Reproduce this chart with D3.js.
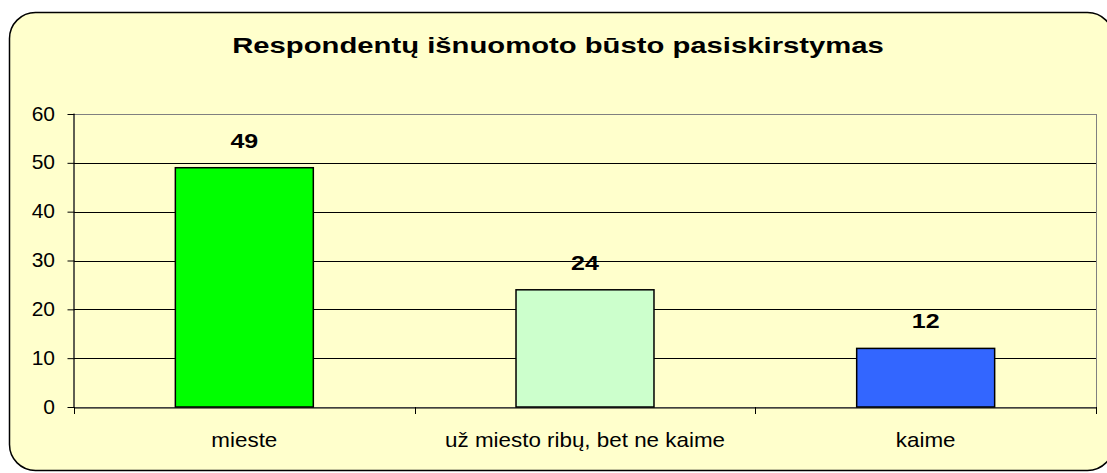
<!DOCTYPE html>
<html>
<head>
<meta charset="utf-8">
<script src="https://cdn.jsdelivr.net/npm/d3@7"></script>
<style>
  body { margin: 0; background: #fff; }
  text { font-family: Arial, "Liberation Sans", sans-serif; }
</style>
</head>
<body>
<svg width="1107" height="473"></svg>
<script>
// data
var categories = ["mieste", "už miesto ribų, bet ne kaime", "kaime"];
var values = [49, 24, 12];
var barColors = ["#00FF00", "#CCFFCC", "#3366FF"];
var yTicks = [0, 10, 20, 30, 40, 50, 60];
var title = "Respondentų išnuomoto būsto pasiskirstymas";

var svg = d3.select("svg");

// chart area background
svg.append("rect")
  .attr("x", 9.5).attr("y", 12.5)
  .attr("width", 1104).attr("height", 458)
  .attr("rx", 26).attr("ry", 26)
  .style("fill", "#FFFFCC")
  .style("stroke", "#000")
  .style("stroke-width", 1.5);

svg.append("text")
  .attr("transform", "translate(558,53) scale(1.33,1)")
  .style("text-anchor", "middle")
  .style("font-weight", "bold")
  .style("font-size", "22px")
  .text(title);

var pLeft = 74, pRight = 1096, pTop = 114, pBottom = 407;

var x = d3.scaleBand().domain(categories).range([pLeft, pRight]);
var y = d3.scaleLinear().domain([0, 60]).range([pBottom, pTop]);

// plot box
svg.append("rect")
  .attr("x", pLeft).attr("y", pTop + 0.5)
  .attr("width", pRight - pLeft + 0.5).attr("height", pBottom - pTop)
  .style("fill", "#FFFFCC")
  .style("stroke", "#808080")
  .style("stroke-width", 1);

// grid
svg.selectAll(".grid")
  .data(yTicks.filter(function(d) { return d > 0 && d < 60; }))
  .enter().append("line")
    .attr("class", "grid")
    .attr("x1", pLeft).attr("x2", pRight)
    .attr("y1", function(d) { return Math.round(y(d)) + 0.5; })
    .attr("y2", function(d) { return Math.round(y(d)) + 0.5; })
    .style("stroke", "#000")
    .style("stroke-width", 1);

// bars
var bw = x.bandwidth() * 0.405;
svg.selectAll(".bar")
  .data(values)
  .enter().append("rect")
    .attr("class", "bar")
    .attr("x", function(d, i) { return x(categories[i]) + x.bandwidth() / 2 - bw / 2; })
    .attr("y", function(d) { return y(d); })
    .attr("width", bw)
    .attr("height", function(d) { return pBottom - y(d); })
    .style("fill", function(d, i) { return barColors[i]; })
    .style("stroke", "#000")
    .style("stroke-width", 1.5);

// value labels
svg.selectAll(".val")
  .data(values)
  .enter().append("text")
    .attr("class", "val")
    .attr("transform", function(d, i) {
      return "translate(" + (x(categories[i]) + x.bandwidth() / 2) + "," + (y(d) - 20) + ") scale(1.25,1)";
    })
    .style("text-anchor", "middle")
    .style("font-weight", "bold")
    .style("font-size", "20px")
    .text(function(d) { return d; });

// y axis
var yAxis = d3.axisLeft(y).tickValues(yTicks).tickSize(7).tickPadding(0);
var gy = svg.append("g")
  .attr("transform", "translate(" + (pLeft + 0.5) + ",0)")
  .call(yAxis);
gy.select(".domain").attr("d", "M-0.5," + pBottom + "V" + (pTop - 0.5)).style("stroke", "#000");
gy.selectAll("line").style("stroke", "#000");
gy.selectAll("text")
  .attr("x", 0).attr("dy", "0.3em")
  .attr("transform", "translate(-19.5,0) scale(1.05,1)")
  .style("font-size", "20px")
  .style("font-family", "Arial, 'Liberation Sans', sans-serif")
  .attr("fill", "#000");

// x axis
var xAxis = d3.axisBottom(x).tickSize(0).tickPadding(0);
var gx = svg.append("g")
  .attr("transform", "translate(0," + (pBottom + 0.5) + ")")
  .call(xAxis);
gx.select(".domain").style("stroke", "#000");
gx.selectAll("text")
  .attr("y", 0).attr("dy", 0)
  .attr("transform", "translate(0,39) scale(1.12,1)")
  .style("font-size", "20px")
  .style("font-family", "Arial, 'Liberation Sans', sans-serif")
  .attr("fill", "#000");

// category boundary ticks
var bounds = categories.map(function(c) { return x(c); }).concat([pRight]);
svg.selectAll(".btick")
  .data(bounds)
  .enter().append("line")
    .attr("class", "btick")
    .attr("x1", function(d) { return Math.round(d) + 0.5; })
    .attr("x2", function(d) { return Math.round(d) + 0.5; })
    .attr("y1", pBottom).attr("y2", pBottom + 7)
    .style("stroke", "#000");
</script>
</body>
</html>
